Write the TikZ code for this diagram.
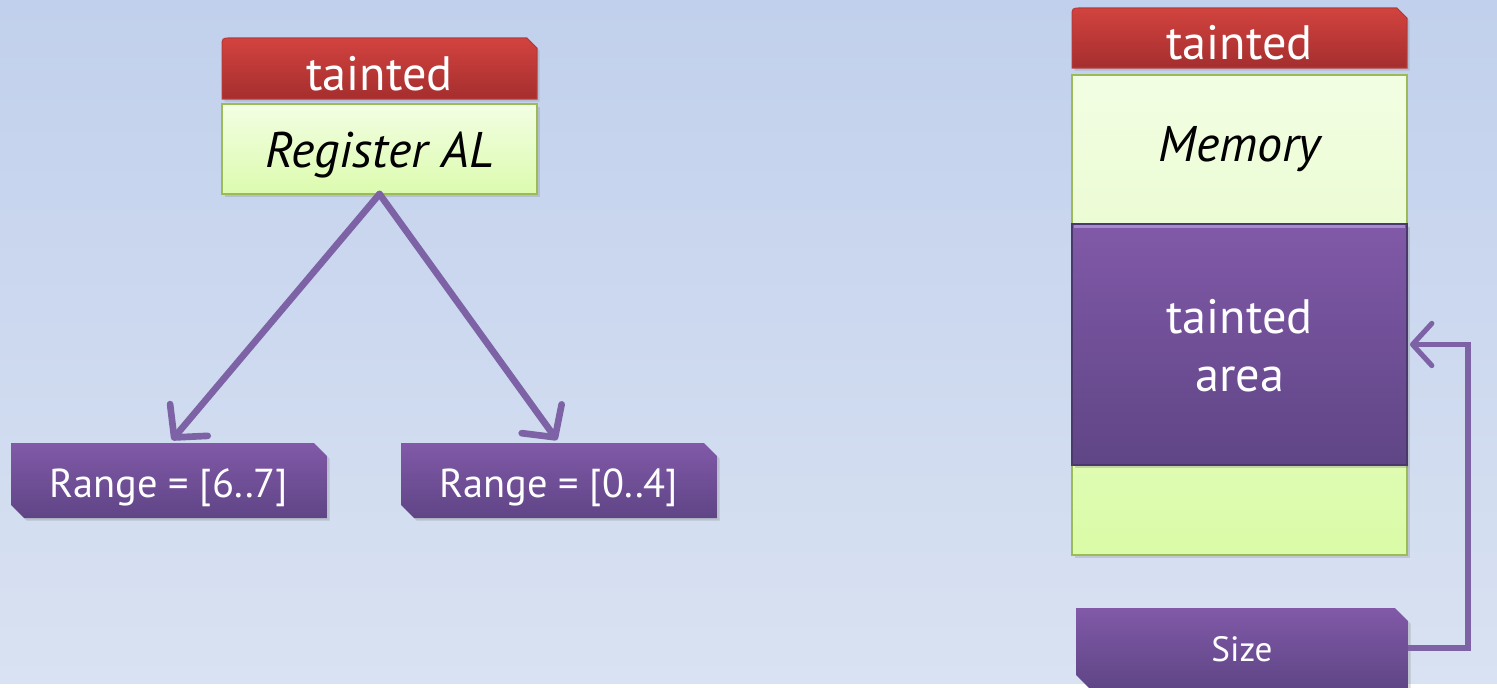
\documentclass[tikz,border=0pt]{standalone}
\usepackage{fontspec}
\setmainfont{PT Sans}
\usetikzlibrary{arrows.meta,shadows,calc}

\definecolor{bgtop}{HTML}{C1D0EC}
\definecolor{bgbot}{HTML}{D9E2F2}
\definecolor{redtop}{HTML}{D2433F}
\definecolor{redbot}{HTML}{A52E2E}
\definecolor{redline}{HTML}{B83A38}
\definecolor{grntop}{HTML}{F2FEE3}
\definecolor{grnbot}{HTML}{DCFBAE}
\definecolor{grnline}{HTML}{9BBB59}
\definecolor{memtop}{HTML}{F2FEE3}
\definecolor{membot}{HTML}{ECFCD4}
\definecolor{lowtop}{HTML}{DFFCB2}
\definecolor{lowbot}{HTML}{DAFBA7}
\definecolor{purtop}{HTML}{8159A8}
\definecolor{purbot}{HTML}{5F4586}
\definecolor{purline}{HTML}{4B386C}
\definecolor{purlight}{HTML}{A88AD2}
\definecolor{arrowc}{HTML}{7D62A6}

\pgfdeclarelayer{back}
\pgfdeclarelayer{boxes}
\pgfsetlayers{back,boxes,main}

% text holders: the filled shapes are drawn behind them from their anchors
\tikzset{
  holder/.style={draw=none,fill=none,inner sep=0pt,outer sep=0pt,align=center},
  hdrtext/.style={holder,text=white,font=\fontsize{27.5}{32}\selectfont,
    text height=24.5pt,text depth=0pt},
  regtext/.style={holder,text=black,font=\fontsize{28.5}{32}\selectfont\itshape},
  reglabel/.style={regtext,text height=21.6pt,text depth=0pt},
  rngtext/.style={holder,text=white,font=\fontsize{23}{27}\selectfont,
    text height=18.8pt,text depth=0pt},
  areatext/.style={holder,text=white,font=\fontsize{27.5}{33}\selectfont},
  sizetext/.style={holder,text=white,font=\fontsize{20}{24}\selectfont},
  redfill/.style={top color=redtop,bottom color=redbot,draw=redline,line width=0.6pt,
    drop shadow={opacity=0.25,shadow xshift=1.5pt,shadow yshift=-1.5pt}},
  grnfill/.style={top color=grntop,bottom color=grnbot,draw=grnline,line width=1.1pt,
    drop shadow={opacity=0.25,shadow xshift=1.5pt,shadow yshift=-1.5pt}},
  memfill/.style={top color=memtop,bottom color=membot,draw=grnline,line width=1.1pt},
  lowfill/.style={top color=lowtop,bottom color=lowbot,draw=grnline,line width=1.1pt,
    drop shadow={opacity=0.25,shadow xshift=1.5pt,shadow yshift=-1.5pt}},
  purfill/.style={top color=purtop,bottom color=purbot,draw=none,
    drop shadow={opacity=0.3,shadow xshift=1.5pt,shadow yshift=-1.5pt}},
  areafill/.style={top color=purtop,bottom color=purbot,draw=purline,line width=1pt,
    drop shadow={opacity=0.3,shadow xshift=1.5pt,shadow yshift=-1.5pt}},
  link/.style={draw=arrowc,line width=3.8pt,line cap=round,line join=round,
    -{Straight Barb[length=13pt,width=28pt,line width=3.8pt,round]}},
  sizelink/.style={draw=arrowc,line width=2.9pt,line join=miter,
    -{Straight Barb[length=11pt,width=24pt,line width=2.9pt,round]}},
}

% header: rounded top-left corner, cut top-right corner
\newcommand\headshape[2]{%
  \path[#2] (#1.south west) -- ($(#1.north west)+(0,9)$)
    .. controls (#1.north west) .. ($(#1.north west)+(9,0)$)
    -- ($(#1.north east)+(-10,0)$)
    -- ($(#1.north east)+(0,10)$) -- (#1.south east) -- cycle;}
% label box: cut top-right and bottom-left corners
\newcommand\snipshape[3]{%
  \path[#2] (#1.north west) -- ($(#1.north east)+(-#3,0)$) -- ($(#1.north east)+(0,#3)$)
    -- (#1.south east) -- ($(#1.south west)+(#3,0)$) -- ($(#1.south west)+(0,-#3)$) -- cycle;}

\begin{document}
\begin{tikzpicture}[x=0.02cm,y=-0.02cm]

% left: register with its two ranges
\node[hdrtext,minimum width=6.3cm,minimum height=1.22cm] (hdrL) at (379.5,68.5) {tainted};
\node[reglabel,minimum width=6.3cm,minimum height=1.8cm] (regL) at (379.5,149) {Register AL};
\node[rngtext,minimum width=6.32cm,minimum height=1.5cm] (rngA) at (169,480.5) {Range = [6..7]};
\node[rngtext,minimum width=6.32cm,minimum height=1.5cm] (rngB) at (559,480.5) {Range = [0..4]};

% right: memory column and its size
\node[hdrtext,minimum width=6.7cm,minimum height=1.2cm] (hdrR) at (1239.5,38) {tainted};
\node[regtext,minimum width=6.7cm,minimum height=2.98cm] (mem) at (1239.5,149.5) {Memory};
\node[areatext,minimum width=6.7cm,minimum height=4.82cm] (area) at (1239.5,346) {tainted\\area};
\node[holder,minimum width=6.7cm,minimum height=1.8cm] (low) at (1239.5,510) {};
\node[holder,minimum width=6.64cm,minimum height=1.6cm] (size) at (1242,648) {};
\node[sizetext] (sizetxt) at (1242,649) {Size};

\begin{pgfonlayer}{back}
  \fill[top color=bgtop,bottom color=bgbot] (0,0) rectangle (1497,683);
\end{pgfonlayer}
\useasboundingbox (0,0) rectangle (1497,683);

\begin{pgfonlayer}{boxes}
  \headshape{hdrL}{redfill}
  \path[grnfill] (regL.north west) rectangle (regL.south east);
  \snipshape{rngA}{purfill}{13}
  \snipshape{rngB}{purfill}{13}
  \headshape{hdrR}{redfill}
  \path[lowfill] (low.north west) rectangle (low.south east);
  \path[memfill] (mem.north west) rectangle (mem.south east);
  \path[areafill] ($(area.north west)+(0,-1.5)$) rectangle ($(area.south east)+(0,-1.5)$);
  % bevelled top edge of the tainted area
  \draw[purlight,line width=2pt] ($(area.north west)+(2,1)$) -- ($(area.north east)+(-2,1)$);
  \snipshape{size}{purfill}{13}
\end{pgfonlayer}

% connectors
\draw[link] (regL.south) -- ($(rngA.north)+(3,-3)$);
\draw[link] (regL.south) -- ($(rngB.north)+(-2,-3)$);
\coordinate (turn) at (1468,648);
\draw[sizelink] (size.east) -- (turn) |- ($(area.east)+(3,-1.5)$);

\end{tikzpicture}
\end{document}
